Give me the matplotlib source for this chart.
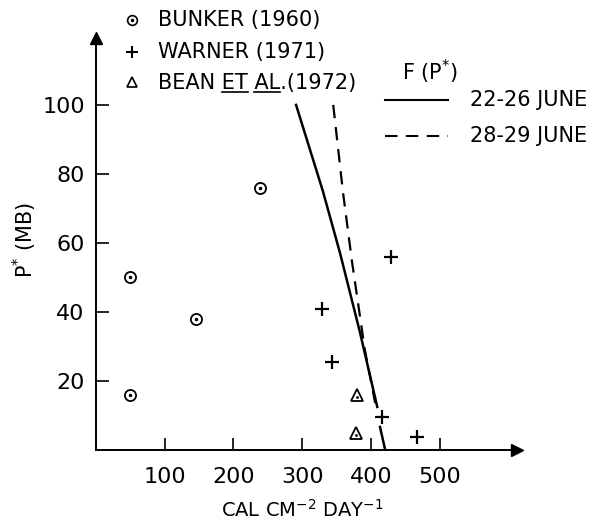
import matplotlib
matplotlib.use("Agg")
import matplotlib.pyplot as plt

plt.rcParams['font.family'] = ['DejaVu Sans']

# Data
bunker_x = [50, 50, 145, 238]
bunker_y = [16, 50, 38, 76]

warner_x = [329, 343, 416, 429, 467]
warner_y = [41, 25.5, 9.6, 56, 3.8]

bean_x = [380, 378]
bean_y = [16, 5]

# F(P*) curves
june22_x = [291, 330, 355, 384, 409]
june22_y = [100, 75, 57, 34, 12.5]
june22_tail_x = [413, 420]
june22_tail_y = [6.7, 0.5]

june28_x = [345, 359, 372, 391, 406]
june28_y = [100, 75, 55, 29, 13.6]

x_ticks = [100, 200, 300, 400, 500]
y_ticks = [20, 40, 60, 80, 100]

W, H = 599, 527
fig = plt.figure(figsize=(W / 100, H / 100), dpi=100)
ax = fig.add_axes([0.160, 0.146, 0.703, 0.782])
ax.set_xlim(0, 612)
ax.set_ylim(0, 119.4)

for s in ['top', 'right']:
    ax.spines[s].set_visible(False)
for s in ['left', 'bottom']:
    ax.spines[s].set_linewidth(1.4)

# arrow heads on the axes
ax.plot(1, 0, '>k', markersize=8, transform=ax.get_yaxis_transform(), clip_on=False)
ax.plot(0, 1, '^k', markersize=8, transform=ax.get_xaxis_transform(), clip_on=False)

ax.set_xticks(x_ticks)
ax.set_yticks(y_ticks)
ax.tick_params(direction='in', length=9, width=1.2, labelsize=16, pad=8)
ax.tick_params(axis='x', pad=12)

# points
ax.plot(bunker_x, bunker_y, 'o', mfc='none', mec='k', ms=8, mew=1.3, clip_on=False)
ax.plot(bunker_x, bunker_y, '.', color='k', ms=3, clip_on=False)
ax.plot(warner_x, warner_y, '+', color='k', ms=10, mew=1.6, clip_on=False)
ax.plot(bean_x, bean_y, '^', mfc='none', mec='k', ms=8, mew=1.3, clip_on=False)
ax.plot(bean_x, [v - 0.6 for v in bean_y], '.', color='k', ms=2, clip_on=False)

# curves
ax.plot(june22_x, june22_y, '-', color='k', lw=1.8)
ax.plot(june22_tail_x, june22_tail_y, '-', color='k', lw=1.8)
ax.plot(june28_x, june28_y, '--', color='k', lw=1.6, dashes=(6, 4))

ax.set_xlabel('CAL CM$^{-2}$ DAY$^{-1}$', fontsize=14, va='center')
ax.xaxis.set_label_coords(0.49, -0.145)
ax.set_ylabel('P$^{*}$ (MB)', fontsize=15)
ax.yaxis.set_label_coords(-0.135, 0.51)

leg_fs = 15


def fxy(px, py):
    # pixel position (from top left) to figure fraction
    return px / W, 1 - py / H


# marker legend (top left)
rows = [('BUNKER (1960)', 20), ('WARNER (1971)', 52), ('BEAN ET AL.(1972)', 83)]
mx = 132
fig.add_artist(plt.Line2D(*zip(fxy(mx, 20)), marker='o', mfc='none', mec='k',
                          ms=7, mew=1.2, transform=fig.transFigure))
fig.add_artist(plt.Line2D(*zip(fxy(mx, 20)), marker='.', color='k', ms=3,
                          transform=fig.transFigure))
fig.add_artist(plt.Line2D(*zip(fxy(mx, 52)), marker='+', color='k', ms=9,
                          mew=1.5, transform=fig.transFigure))
fig.add_artist(plt.Line2D(*zip(fxy(mx, 82)), marker='^', mfc='none', mec='k',
                          ms=7, mew=1.2, transform=fig.transFigure))
texts = []
for label, py in rows:
    texts.append(fig.text(*fxy(158, py), label, fontsize=leg_fs, va='center', ha='left'))

# underline "ET" and "AL" in the Bean entry
fig.canvas.draw()
renderer = fig.canvas.get_renderer()
bb = texts[2].get_window_extent(renderer)


def width(s):
    t = fig.text(0, 0, s, fontsize=leg_fs)
    w = t.get_window_extent(renderer).width
    t.remove()
    return w


for word, prefix in [('ET', 'BEAN ET'), ('AL', 'BEAN ET AL')]:
    end = bb.x0 + width(prefix)
    start = end - width(word)
    yl = (bb.y0 + 1) / fig.bbox.height
    fig.add_artist(plt.Line2D([start / fig.bbox.width, end / fig.bbox.width], [yl, yl],
                              color='k', lw=1.2, transform=fig.transFigure))

# curve legend (right)
fig.text(*fxy(430, 72), 'F (P$^{*}$)', fontsize=leg_fs, ha='center', va='center')
xa, ya = fxy(385, 100)
xb, _ = fxy(448, 100)
fig.add_artist(plt.Line2D([xa, xb], [ya, ya], color='k', lw=1.5, transform=fig.transFigure))
fig.text(*fxy(470, 100), '22-26 JUNE', fontsize=leg_fs, va='center', ha='left')
xa, ya = fxy(385, 136)
fig.add_artist(plt.Line2D([xa, xb], [ya, ya], color='k', lw=1.5, ls='--',
                          dashes=(6, 4), transform=fig.transFigure))
fig.text(*fxy(470, 136), '28-29 JUNE', fontsize=leg_fs, va='center', ha='left')

fig.savefig('out.png', dpi=100)
